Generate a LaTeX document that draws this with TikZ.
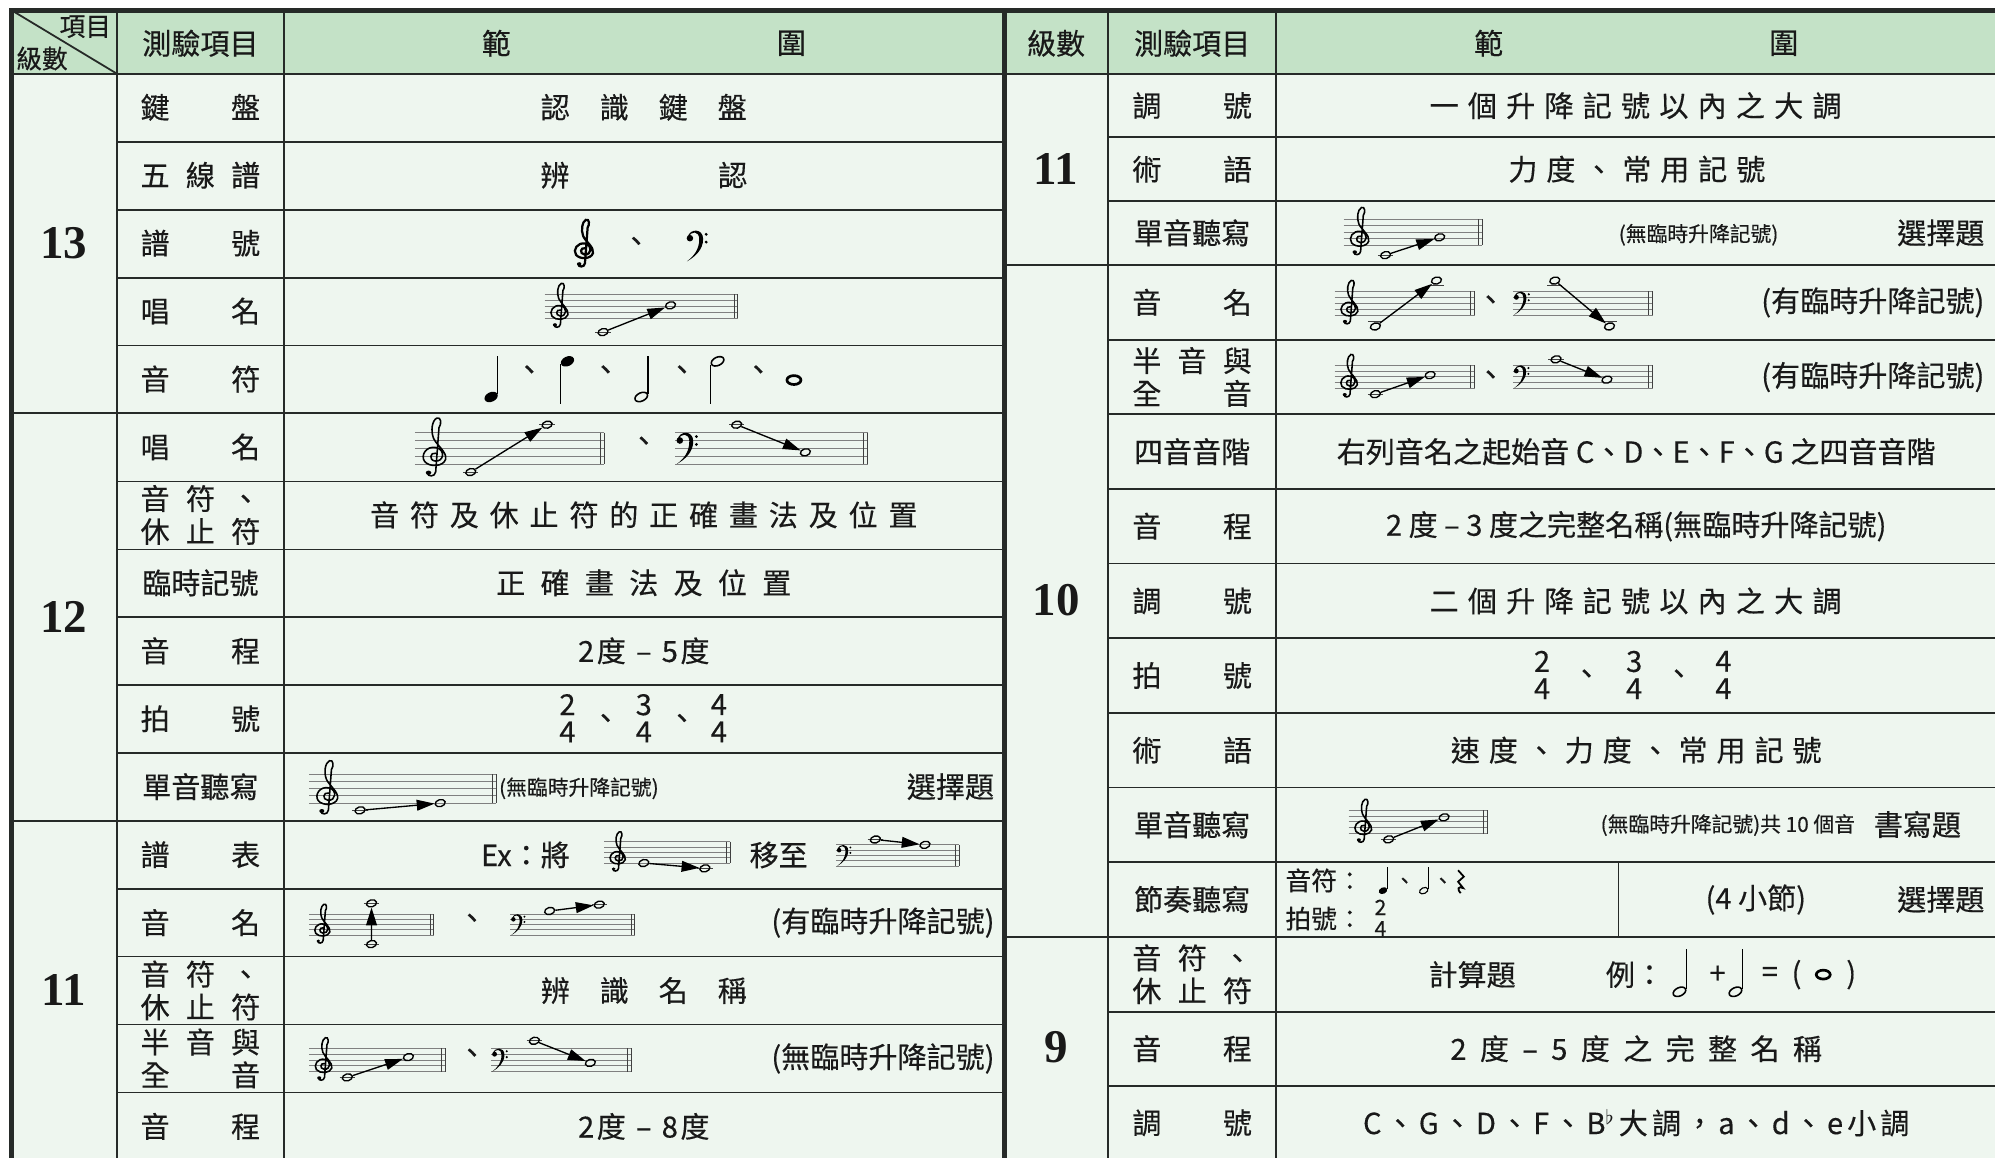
\documentclass[tikz,border=0pt]{standalone}
\usepackage{fontspec}
\setmainfont{Noto Sans CJK TC}[FakeBold=0.35]
\newfontfamily\numfont{Liberation Serif}
\usetikzlibrary{arrows.meta,shapes.geometric}
\definecolor{headgreen}{RGB}{196,226,199}
\definecolor{cellgreen}{RGB}{238,246,239}
\definecolor{rulegray}{RGB}{38,42,40}

\makeatletter
\newcommand\spaced[2]{\def\sp@gap{#1}\sp@first#2\@nil}
\def\sp@first#1{#1\sp@rest}
\def\sp@rest#1{\ifx\@nil#1\else\hspace{\sp@gap}#1\expandafter\sp@rest\fi}
\makeatother

\newcommand\itm[1]{\makebox[18.8mm]{#1}}

% five lines and a double bar
\newcommand\stafflines[4]{%
  \foreach \k in {0,...,4}
    \draw[staffline] (#1,{#3+\k*#4}) -- (#2,{#3+\k*#4});
  \draw[barline] ({#2-3},#3) -- ({#2-3},{#3+4*#4});
  \draw[barline] (#2,#3) -- (#2,{#3+4*#4});
}
\newcommand\gclef[4][0.7pt]{%
  \begin{scope}[shift={({#2},{#3})}, xscale={1.4*#4}, yscale={-1.1*#4}]
    \draw[line width=#1, line cap=round] (0.25,0.35)
      .. controls (-0.25,0.5) and (-0.4,-0.45) .. (0.2,-0.55)
      .. controls (1.0,-0.65) and (1.15,0.75) .. (0.3,1.0)
      .. controls (-0.6,1.25) and (-1.15,0.1) .. (-0.75,-0.6)
      .. controls (-0.3,-1.3) and (0.95,-1.2) .. (1.15,-0.35)
      .. controls (1.3,0.5) and (0.3,1.3) .. (0.05,2.1)
      .. controls (-0.2,2.9) and (-0.1,4.1) .. (0.35,4.4)
      .. controls (0.75,4.6) and (0.8,3.7) .. (0.55,3.3)
      -- (0.25,-1.8)
      .. controls (0.2,-2.4) and (-0.5,-2.4) .. (-0.5,-1.9);
    \fill (-0.4,-1.9) circle [radius=0.25];
  \end{scope}}
\newcommand\fclef[3]{%
  \begin{scope}[shift={({#1},{#2})}, xscale=#3, yscale=-#3]
    \fill (-0.45,0) circle [radius=0.42];
    \fill (-0.75,0.1) .. controls (-0.5,1.3) and (1.25,1.3) .. (1.25,-0.1)
      .. controls (1.25,-1.5) and (0.2,-2.4) .. (-0.85,-3.0)
      .. controls (0.05,-2.3) and (0.75,-1.5) .. (0.75,-0.1)
      .. controls (0.75,0.95) and (-0.35,1.0) .. (-0.6,0.1) -- cycle;
    \fill (1.65,0.5) circle [radius=0.2] (1.65,-0.5) circle [radius=0.2];
  \end{scope}}
\newcommand\tstaff[4]{\stafflines{#1}{#2}{#3}{#4}\gclef{#1+2.3*#4}{#3+3*#4}{#4}}
\newcommand\bstaff[4]{\stafflines{#1}{#2}{#3}{#4}\fclef{#1+1.05*#4}{#3+#4}{#4}}
\newcommand\ledger[2]{\draw[ledgerline] ({#1-6},#2) -- ({#1+6},#2);}

\begin{document}
\begin{tikzpicture}[x=0.2mm, y=-0.2mm,
    every node/.style={inner sep=0pt, text=black!90, font=\fontsize{13}{14.7}\selectfont},
    lvl/.style={font=\numfont\bfseries\fontsize{21}{21}\selectfont},
    small/.style={font=\fontsize{9.3}{10}\selectfont},
    tight/.style={font=\fontsize{11.5}{12}\selectfont},
    corner/.style={font=\fontsize{11.5}{12}\selectfont},
    frac/.style={align=center, font=\fontsize{13}{12.2}\selectfont},
    fracs/.style={align=center, font=\fontsize{9.5}{9.5}\selectfont},
    grid/.style={draw=rulegray, line width=0.8pt},
    heavy/.style={draw=rulegray, line width=2.2pt},
    staffline/.style={draw=black!50, line width=0.4pt},
    barline/.style={draw=black!75, line width=0.45pt},
    ledgerline/.style={draw=black!75, line width=0.45pt},
    wn/.style={ellipse, draw, line width=0.6pt, minimum width=1.6mm, minimum height=1.1mm, rotate=15},
    qhead/.style={ellipse, fill=black, minimum width=2.2mm, minimum height=1.5mm, rotate=25},
    hhead/.style={ellipse, draw, line width=0.7pt, minimum width=2.1mm, minimum height=1.3mm, rotate=25},
    whole/.style={ellipse, draw, line width=1.2pt, minimum width=2.2mm, minimum height=1.4mm},
    stem/.style={line width=0.5pt},
    mv/.style={-{Triangle[length=2.8mm,width=1.7mm]}, line width=0.6pt},
  ]
  \useasboundingbox (0,0) rectangle (1568,910);
  \fill[cellgreen] (9,8) rectangle (1568,910);
  \fill[headgreen] (9,8) rectangle (1568,58);

  % rules
  \draw[grid] (9,58) -- (1568,58);
  \draw[grid] (92,8) -- (92,910) (223,8) -- (223,910) (871,8) -- (871,910) (1003,8) -- (1003,910);
  \draw[grid] (9,8) -- (92,58);
  \foreach \y in {111.4,164.8,218.2,271.6,378.4,431.8,485.2,538.6,592,698.4,751.8,805.2,858.6}
    \draw[grid] (92,\y) -- (789,\y);
  \foreach \y in {324.9,645.4}
    \draw[grid] (9,\y) -- (789,\y);
  \foreach \y in {107.4,157.9,266.96,325.62,384.28,442.94,501.6,560.26,618.92,677.58,795.2,853.3}
    \draw[grid] (871,\y) -- (1568,\y);
  \foreach \y in {208.3,736.24}
    \draw[grid] (789,\y) -- (1568,\y);
  \draw[grid] (1272,677.58) -- (1272,736.24);
  \draw[heavy] (9,910) -- (9,8) -- (1568,8);
  \draw[heavy] (789.5,8) -- (789.5,910);

  % header
  \node[corner] (cornerTop) at (67,21) {項目};
  \node[corner] (cornerBot) at (33,46) {級數};
  \node (headItemL) at (157.5,34) {測驗項目};
  \node (headFanL) at (390,34) {範};
  \node (headWeiL) at (622,34) {圍};
  \node (headLvR) at (830,34) {級數};
  \node (headItemR) at (937,34) {測驗項目};
  \node (headFanR) at (1170,34) {範};
  \node (headWeiR) at (1402,34) {圍};

  % levels
  \node[lvl] (lv13) at (50,191) {13};
  \node[lvl] (lv12) at (50,485) {12};
  \node[lvl] (lv11) at (50,778) {11};
  \node[lvl] (lvR11) at (830,133) {11};
  \node[lvl] (lvR10) at (830,472) {10};
  \node[lvl] (lvR9) at (830,823) {9};

  % left items
  \node (itA1) at (157.5,84.3) {\itm{鍵\hfill 盤}};
  \node (itA2) at (157.5,137.7) {\itm{五\hfill 線\hfill 譜}};
  \node (itA3) at (157.5,191.1) {\itm{譜\hfill 號}};
  \node (itA4) at (157.5,244.5) {\itm{唱\hfill 名}};
  \node (itA5) at (157.5,297.9) {\itm{音\hfill 符}};
  \node (itB1) at (157.5,351.3) {\itm{唱\hfill 名}};
  \node[align=center] (itB2) at (157.5,404.7) {\itm{音\hfill 符\hfill 、}\\\itm{休\hfill 止\hfill 符}};
  \node (itB3) at (157.5,458.1) {\itm{臨時記號}};
  \node (itB4) at (157.5,511.5) {\itm{音\hfill 程}};
  \node (itB5) at (157.5,564.9) {\itm{拍\hfill 號}};
  \node (itB6) at (157.5,618.3) {\itm{單音聽寫}};
  \node (itC1) at (157.5,671.7) {\itm{譜\hfill 表}};
  \node (itC2) at (157.5,725.1) {\itm{音\hfill 名}};
  \node[align=center] (itC3) at (157.5,778.5) {\itm{音\hfill 符\hfill 、}\\\itm{休\hfill 止\hfill 符}};
  \node[align=center] (itC4) at (157.5,831.9) {\itm{半\hfill 音\hfill 與}\\\itm{全\hfill 音}};
  \node (itC5) at (157.5,885.3) {\itm{音\hfill 程}};

  % right items
  \node (itD1) at (937,83) {\itm{調\hfill 號}};
  \node (itD2) at (937,133) {\itm{術\hfill 語}};
  \node (itD3) at (937,183) {\itm{單音聽寫}};
  \node (itE1) at (937,237.6) {\itm{音\hfill 名}};
  \node[align=center] (itE2) at (937,296.3) {\itm{半\hfill 音\hfill 與}\\\itm{全\hfill 音}};
  \node (itE3) at (937,355) {\itm{四音音階}};
  \node (itE4) at (937,413.6) {\itm{音\hfill 程}};
  \node (itE5) at (937,472.3) {\itm{調\hfill 號}};
  \node (itE6) at (937,530.9) {\itm{拍\hfill 號}};
  \node (itE7) at (937,589.6) {\itm{術\hfill 語}};
  \node (itE8) at (937,648.3) {\itm{單音聽寫}};
  \node (itE9) at (937,706.9) {\itm{節奏聽寫}};
  \node[align=center] (itF1) at (937,765.7) {\itm{音\hfill 符\hfill 、}\\\itm{休\hfill 止\hfill 符}};
  \node (itF2) at (937,824.2) {\itm{音\hfill 程}};
  \node (itF3) at (937,882.5) {\itm{調\hfill 號}};

  % level 13 ranges
  \node (rgA1) at (506,84.3) {\spaced{4.7mm}{認識鍵盤}};
  \node (rgA2) at (506,137.7) {\spaced{23.4mm}{辨認}};
  \gclef[1pt]{458}{197}{5}
  \node (sepA3) at (500,192) {、};
  \fclef{545}{187.2}{6.1}
  \tstaff{428}{580}{231.4}{4.7}
  \ledger{474}{261}
  \node[wn] (noteA4a) at (474,261) {};
  \node[wn] (noteA4b) at (527,240) {};
  \draw[mv] (noteA4a) -- (noteA4b);
  \node[qhead] (noteA5a) at (386,312) {};
  \draw[stem] (noteA5a.east) -- ++(0,-30);
  \node[qhead] (noteA5b) at (446,284) {};
  \draw[stem] (noteA5b.west) -- ++(0,31);
  \node[hhead] (noteA5c) at (504,312) {};
  \draw[stem] (noteA5c.east) -- ++(0,-30);
  \node[hhead] (noteA5d) at (564,284) {};
  \draw[stem] (noteA5d.west) -- ++(0,31);
  \node[whole] (noteA5e) at (624,298.7) {};
  \foreach \x/\n in {416/a,476/b,536/c,596/d}
    \node (sepA5\n) at (\x,293) {、};

  % level 12 ranges
  \tstaff{326}{475}{340}{6.2}
  \ledger{370}{371}
  \node[wn] (noteB1a) at (370,371) {};
  \ledger{430}{333.8}
  \node[wn] (noteB1b) at (430,333.8) {};
  \draw[mv] (noteB1a) -- (noteB1b);
  \node (sepB1) at (506,349) {、};
  \bstaff{530.6}{682}{340}{6.2}
  \ledger{579}{333.8}
  \node[wn] (noteB1c) at (579,333.8) {};
  \node[wn] (noteB1d) at (633,355.5) {};
  \draw[mv] (noteB1c) -- (noteB1d);
  \node (rgB2) at (506,404.7) {\spaced{1.7mm}{音符及休止符的正確畫法及位置}};
  \node (rgB3) at (506,458.1) {\spaced{2.4mm}{正確畫法及位置}};
  \node (rgB4) at (506,511.5) {2\hspace{0.4mm}度\hspace{1.6mm}–\hspace{1.6mm}5\hspace{0.4mm}度};
  \node[frac] (fracB5a) at (446,564.5) {2\\4};
  \node[frac] (fracB5b) at (506,564.5) {3\\4};
  \node[frac] (fracB5c) at (565,564.5) {4\\4};
  \node (sepB5a) at (476,567) {、};
  \node (sepB5b) at (536,567) {、};
  \tstaff{243}{390}{608.4}{5.7}
  \ledger{283}{636.9}
  \node[wn] (noteB6a) at (283,636.9) {};
  \node[wn] (noteB6b) at (346,631.2) {};
  \draw[mv] (noteB6a) -- (noteB6b);
  \node[small] (noteB6t) at (455,619.6) {(無臨時升降記號)};
  \node (choiceB6) at (747,618.3) {選擇題};

  % level 11 ranges (left)
  \node (rgC1a) at (413,672) {Ex：將};
  \tstaff{475}{574}{661.5}{4.2}
  \node[wn] (noteC1a) at (506,678.3) {};
  \ledger{554}{682.5}
  \node[wn] (noteC1b) at (554,682.5) {};
  \draw[mv] (noteC1a) -- (noteC1b);
  \node (rgC1b) at (612,672) {移至};
  \bstaff{657}{754}{664}{4.2}
  \ledger{688}{659.8}
  \node[wn] (noteC1c) at (688,659.8) {};
  \node[wn] (noteC1d) at (727,664) {};
  \draw[mv] (noteC1c) -- (noteC1d);
  \tstaff{243}{341}{718.4}{4.15}
  \ledger{292}{742}
  \node[wn] (noteC2a) at (292,742) {};
  \ledger{292}{710}
  \node[wn] (noteC2b) at (292,710) {};
  \draw[mv] (noteC2a) -- (noteC2b);
  \node (sepC2) at (371,724) {、};
  \bstaff{401}{499}{718.4}{4.15}
  \node[wn] (noteC2c) at (432,716) {};
  \ledger{471}{711}
  \node[wn] (noteC2d) at (471,711) {};
  \draw[mv] (noteC2c) -- (noteC2d);
  \node[anchor=east] (rgC2) at (782,725.1) {(有臨時升降記號)};
  \node (rgC3) at (506,778.5) {\spaced{4.7mm}{辨識名稱}};
  \tstaff{243}{350}{824}{4.55}
  \ledger{273}{846.8}
  \node[wn] (noteC4a) at (273,846.8) {};
  \node[wn] (noteC4b) at (321,830.8) {};
  \draw[mv] (noteC4a) -- (noteC4b);
  \node (sepC4) at (371,830) {、};
  \bstaff{386}{496}{824}{4.55}
  \ledger{420}{818}
  \node[wn] (noteC4c) at (420,818) {};
  \node[wn] (noteC4d) at (464,835.4) {};
  \draw[mv] (noteC4c) -- (noteC4d);
  \node[anchor=east] (rgC4) at (782,831.9) {(無臨時升降記號)};
  \node (rgC5) at (506,885.3) {2\hspace{0.4mm}度\hspace{1.6mm}–\hspace{1.6mm}8\hspace{0.4mm}度};

  % level 11 ranges (right)
  \node (rgD1) at (1285.5,83) {\spaced{1.45mm}{一個升降記號以內之大調}};
  \node (rgD2) at (1286.5,133) {\spaced{1.4mm}{力度、常用記號}};
  \tstaff{1056}{1165}{172.4}{5.05}
  \ledger{1089}{200.5}
  \node[wn] (noteD3a) at (1089,200.5) {};
  \node[wn] (noteD3b) at (1131.5,186.5) {};
  \draw[mv] (noteD3a) -- (noteD3b);
  \node[small] (rgD3) at (1335,184.5) {(無臨時升降記號)};
  \node[anchor=east] (choiceD3) at (1560,183) {選擇題};

  % level 10 ranges
  \tstaff{1049}{1159}{229}{4.65}
  \ledger{1081}{252.3}
  \node[wn] (noteE1a) at (1081,256.6) {};
  \ledger{1129}{224.4}
  \node[wn] (noteE1b) at (1129,220.5) {};
  \draw[mv] (noteE1a) -- (noteE1b);
  \node (sepE1) at (1171.6,238) {、};
  \bstaff{1189}{1299}{229}{4.65}
  \ledger{1222}{224.4}
  \node[wn] (noteE1c) at (1222,220.5) {};
  \ledger{1265}{252.3}
  \node[wn] (noteE1d) at (1265,256.6) {};
  \draw[mv] (noteE1c) -- (noteE1d);
  \node[anchor=east] (rgE1) at (1560,237.6) {(有臨時升降記號)};
  \tstaff{1049}{1159}{287}{4.55}
  \ledger{1081}{309.8}
  \node[wn] (noteE2a) at (1081,309.8) {};
  \node[wn] (noteE2b) at (1124,294.8) {};
  \draw[mv] (noteE2a) -- (noteE2b);
  \node (sepE2) at (1171.6,297) {、};
  \bstaff{1189}{1299}{287}{4.55}
  \ledger{1223}{282.4}
  \node[wn] (noteE2c) at (1223,282.4) {};
  \node[wn] (noteE2d) at (1263,298.4) {};
  \draw[mv] (noteE2c) -- (noteE2d);
  \node[anchor=east] (rgE2) at (1560,296.3) {(有臨時升降記號)};
  \node (rgE3) at (1286,355) {右列音名之起始音 C、D、E、F、G 之四音音階};
  \node (rgE4) at (1286,413.6) {2 度 – 3 度之完整名稱(無臨時升降記號)};
  \node (rgE5) at (1285.5,472.3) {\spaced{1.45mm}{二個升降記號以內之大調}};
  \node[frac] (fracE6a) at (1212,530.5) {2\\4};
  \node[frac] (fracE6b) at (1284.4,530.5) {3\\4};
  \node[frac] (fracE6c) at (1354.6,530.5) {4\\4};
  \node (sepE6a) at (1247,532) {、};
  \node (sepE6b) at (1319.5,532) {、};
  \node (rgE7) at (1286,589.6) {\spaced{1.4mm}{速度、力度、常用記號}};
  \tstaff{1060}{1169}{636.7}{4.6}
  \ledger{1091.4}{659.7}
  \node[wn] (noteE8a) at (1091.4,659.7) {};
  \node[wn] (noteE8b) at (1135,642.4) {};
  \draw[mv] (noteE8a) -- (noteE8b);
  \node[small] (rgE8) at (1358,648.5) {(無臨時升降記號)共 10 個音};
  \node (writeE8) at (1507,648) {書寫題};
  \node[tight, anchor=west] (rgE9a) at (1010,692) {音符：};
  \node[qhead, minimum width=1.4mm, minimum height=1mm] (noteE9a) at (1087,700) {};
  \draw[stem] (noteE9a.east) -- ++(0,-17);
  \node[small] (sepE9a) at (1104,694) {、};
  \node[hhead, minimum width=1.4mm, minimum height=0.9mm, line width=0.5pt] (noteE9b) at (1119,700) {};
  \draw[stem] (noteE9b.east) -- ++(0,-17);
  \node[small] (sepE9b) at (1134,694) {、};
  \draw[line width=0.8pt] (1146,684) -- (1150.5,689) -- (1146,693) -- (1150,698)
    .. controls (1146,696) and (1145,699) .. (1148,702);
  \node[tight, anchor=west] (rgE9b) at (1010,722) {拍號：};
  \node[fracs] (fracE9) at (1085,721.5) {2\\4};
  \node (rgE9c) at (1380,707) {(4 小節)};
  \node[anchor=east] (choiceE9) at (1560,706.9) {選擇題};

  % level 9 ranges
  \node (rgF1a) at (1157,766) {計算題};
  \node (rgF1b) at (1285,766) {例：};
  \node[hhead] (noteF1a) at (1320,779.5) {};
  \draw[stem] (noteF1a.east) -- ++(0,-31);
  \node (plusF1) at (1350,766) {+};
  \node[hhead] (noteF1b) at (1364,779.5) {};
  \draw[stem] (noteF1b.east) -- ++(0,-31);
  \node (eqF1) at (1391,766) {=};
  \node (lpF1) at (1412,766) {(};
  \node[whole] (noteF1c) at (1433,766) {};
  \node (rpF1) at (1455,766) {)};
  \node (rgF2) at (1286,824.2) {\spaced{2.1mm}{2度–5度之完整名稱}};
  \node (rgF3) at (1286,882.5) {\spaced{0.64mm}{C、G、D、F、B}$^\flat$\hspace{0.64mm}\spaced{0.64mm}{大調，a、d、e小調}};
\end{tikzpicture}
\end{document}
